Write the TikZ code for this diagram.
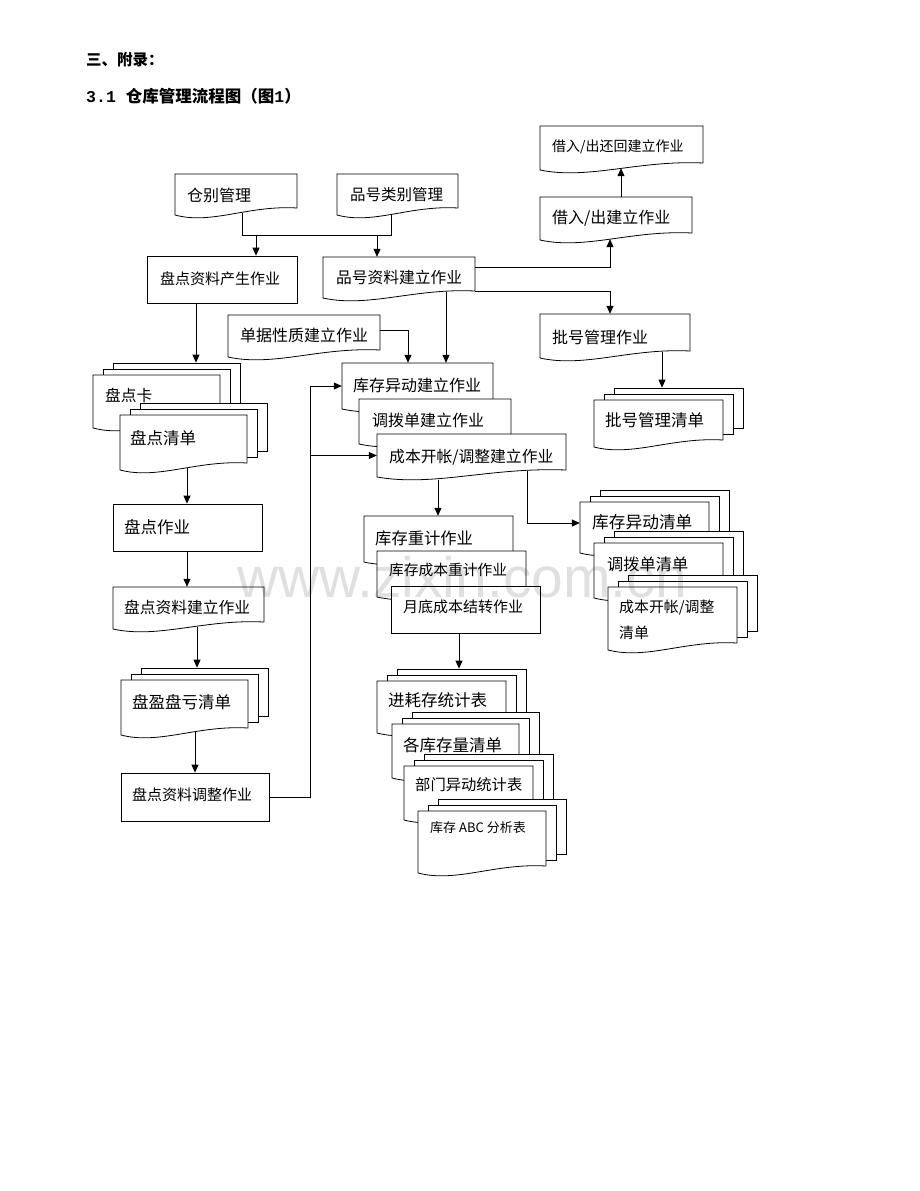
\documentclass[tikz,border=0pt]{standalone}
\usepackage{fontspec}
\newfontfamily\cjk{Noto Sans CJK SC}
\newfontfamily\wmfont{Liberation Sans}
\newfontfamily\digfont{Liberation Mono}
\usetikzlibrary{arrows.meta,fit}
\newcommand\fsz[1]{\cjk\fontsize{#1}{#1}\selectfont}
\tikzset{
  shp/.style={draw=black, fill=white, line width=0.8pt},
  conn/.style={draw=black, line width=0.8pt},
  arr/.style={conn, -{Triangle[length=8pt,width=7pt]}},
  txt/.style={inner sep=0pt, anchor=west},
  box/.style={inner sep=0pt, shp},
  frame/.style={inner sep=0pt, draw=none},
}
\newcommand\docshape[5]{%
  \path[shp] (#2,#3) -- (#4,#3) -- (#4,{#5-7}) .. controls ({#2+0.6*(#4-#2)},{#5-10}) and ({#2+0.3*(#4-#2)},{#5+10}) .. (#2,#5) -- cycle;
  \node[frame, fit={(#2,#3) (#4,#5)}] (#1) {};}
\newcommand\rectshape[5]{\node[box, fit={(#2,#3) (#4,#5)}] (#1) {};}
\newcommand\stackshape[5]{%
  \node[box, fit={({#2+20},{#3-12}) ({#4+20},{#5-19})}] (#1-b2) {};
  \node[box, fit={({#2+10},{#3-6}) ({#4+10},{#5-13})}] (#1-b1) {};
  \docshape{#1}{#2}{#3}{#4}{#5}}
\begin{document}
\begin{tikzpicture}[x=1pt,y=-1pt]
\useasboundingbox (0,0) rectangle (920,1191);
\node[txt, font={\fsz{15.5}\bfseries}] (h1) at (86,60) {三、附录：};
\node[txt, font={\fsz{16.5}\bfseries}] (h2) at (86,96) {{\digfont\fontsize{16.5}{16.5}\selectfont 3.1}\hspace{10pt}仓库管理流程图（图{\digfont\fontsize{16.5}{16.5}\selectfont 1}）};

% top row
\docshape{jh}{540}{126}{703}{170}
\node[txt, font={\fsz{14}}] (jh-t) at (552,147) {借入/出还回建立作业};
\docshape{jc}{540}{197}{692}{240}
\node[txt, font={\fsz{16}}] (jc-t) at (552,218) {借入/出建立作业};
\docshape{cb}{175}{174}{297}{215}
\node[txt, font={\fsz{16}}] (cb-t) at (187,195) {仓别管理};
\docshape{pl}{337}{174}{458}{215}
\node[txt, font={\fsz{15.5}}] (pl-t) at (350,195) {品号类别管理};
\rectshape{pd}{147}{256}{297}{303}
\node[txt, font={\fsz{15}}] (pd-t) at (160,279) {盘点资料产生作业};
\docshape{pz}{323}{257}{475}{298}
\node[txt, font={\fsz{15.75}}] (pz-t) at (336,277) {品号资料建立作业};
\docshape{dj}{228}{315}{380}{357}
\node[txt, font={\fsz{16}}] (dj-t) at (240,335) {单据性质建立作业};
\docshape{ph}{540}{314}{690}{358}
\node[txt, font={\fsz{16}}] (ph-t) at (552,337) {批号管理作业};
\stackshape{phq}{594}{400}{723}{447}
\node[txt, font={\fsz{16.5}}] (phq-t) at (605,420) {批号管理清单};

% middle column
\docshape{kc}{342}{363}{493}{409}
\node[txt, font={\fsz{16}}] (kc-t) at (353,385) {库存异动建立作业};
\docshape{db}{359}{399}{511}{444}
\node[txt, font={\fsz{16}}] (db-t) at (372,420) {调拨单建立作业};
\docshape{cbk}{377}{434}{566}{477}
\node[txt, font={\fsz{15.8}}] (cbk-t) at (389,457) {成本开帐/调整建立作业};

% left column
\stackshape{pk}{93}{375}{220}{428}
\node[txt, font={\fsz{15.7}}] (pk-t) at (105,395) {盘点卡};
\stackshape{pq}{120}{415}{247}{470}
\node[txt, font={\fsz{16.5}}] (pq-t) at (130,438) {盘点清单};
\rectshape{pzy}{113}{504}{262}{551}
\node[txt, font={\fsz{16.5}}] (pzy-t) at (124,527) {盘点作业};
\docshape{pj}{113}{587}{264}{629}
\node[txt, font={\fsz{15.75}}] (pj-t) at (124,607) {盘点资料建立作业};
\stackshape{py}{121}{680}{248}{735}
\node[txt, font={\fsz{16.5}}] (py-t) at (132,702) {盘盈盘亏清单};
\rectshape{pt}{121}{773}{269}{821}
\node[txt, font={\fsz{15}}] (pt-t) at (132,795) {盘点资料调整作业};

% cost column
\docshape{kz}{364}{516}{513}{562}
\node[txt, font={\fsz{16.3}}] (kz-t) at (375,538) {库存重计作业};
\docshape{kcb}{377}{551}{526}{597}
\node[txt, font={\fsz{14.75}}] (kcb-t) at (389,570) {库存成本重计作业};
\rectshape{yd}{391}{586}{540}{633}
\node[txt, font={\fsz{15}}] (yd-t) at (403,607) {月底成本结转作业};

% right lists
\stackshape{kq}{580}{502}{709}{553}
\node[txt, font={\fsz{16.7}}] (kq-t) at (592,522) {库存异动清单};
\stackshape{dq}{594}{543}{723}{598}
\node[txt, font={\fsz{16.2}}] (dq-t) at (607,564) {调拨单清单};
\stackshape{cq}{608}{587}{737}{650}
\node[txt, font={\cjk\fontsize{14.9}{26}\selectfont}, align=left] (cq-t) at (619,620) {成本开帐/调整\\清单};

% bottom reports
\stackshape{jh2}{377}{681}{506}{733}
\node[txt, font={\fsz{16.5}}] (jh2-t) at (388,700) {进耗存统计表};
\stackshape{gk}{392}{724}{519}{778}
\node[txt, font={\fsz{16.5}}] (gk-t) at (403,745) {各库存量清单};
\stackshape{bm}{404}{766}{533}{820}
\node[txt, font={\fsz{15.3}}] (bm-t) at (415,785) {部门异动统计表};
\stackshape{abc}{418}{811}{546}{873}
\node[txt, font={\fsz{13}}] (abc-t) at (430,828) {库存 ABC 分析表};

% connectors
\draw[conn] ([xshift=6pt,yshift=2pt]cb.south) -- ++(0,22) -| ([xshift=-6.5pt,yshift=1pt]pl.south);
\draw[arr] ([xshift=34pt]pd.north) ++(0,-21) -- ([xshift=34pt]pd.north);
\draw[arr] ([xshift=-22pt]pz.north) ++(0,-21) -- ([xshift=-22pt]pz.north);
\draw[arr] ([yshift=10.5pt]pz.east) -| ([xshift=-6pt,yshift=1pt]jc.south);
\draw[arr] ([yshift=-13.5pt]pz.east) -| ([xshift=-5pt]ph.north);
\draw[arr] ([xshift=5pt]jc.north) -- ([xshift=-0.5pt,yshift=2pt]jh.south);
\draw[arr] ([xshift=47pt,yshift=6pt]ph.south) -- ([xshift=-16.5pt]phq-b2.north);
\draw[arr] ([xshift=-26pt]pd.south) -- ([xshift=19.5pt]pk-b2.north);
\draw[arr] ([yshift=6pt]dj.east) -| ([xshift=-9.5pt]kc.north);
\draw[arr] ([xshift=47pt,yshift=6pt]pz.south) -- ([xshift=28.5pt]kc.north);
\draw[arr] ([xshift=3.5pt,yshift=2pt]pq.south) -- ([xshift=-0.5pt]pzy.north);
\draw[arr] ([xshift=-0.5pt]pzy.south) -- ([xshift=-1.5pt]pj.north);
\draw[arr] ([xshift=8.5pt,yshift=2pt]pj.south) -- ([xshift=-7.5pt]py-b2.north);
\draw[arr] ([xshift=10.5pt,yshift=3pt]py.south) -- (pt.north);
\draw[arr] (pt.east) -- ++(41,0) |- (kc.west);
\draw[arr] (cbk.west) ++(-67,0) -- (cbk.west);
\draw[arr] ([xshift=-33.5pt,yshift=-2.5pt]cbk.south) -- ([xshift=-0.5pt]kz.north);
\draw[arr] ([xshift=55.5pt,yshift=6pt]cbk.south) |- ([yshift=4.5pt]kq.west);
\draw[arr] ([xshift=-6.5pt]yd.south) -- ([xshift=-2.5pt]jh2-b2.north);

% watermark
\node[inner sep=0pt, font={\wmfont\fontsize{57}{57}\selectfont}, text=black, opacity=0.12] (wm) at (462,577) {www.zixin.com.cn};
\end{tikzpicture}
\end{document}
